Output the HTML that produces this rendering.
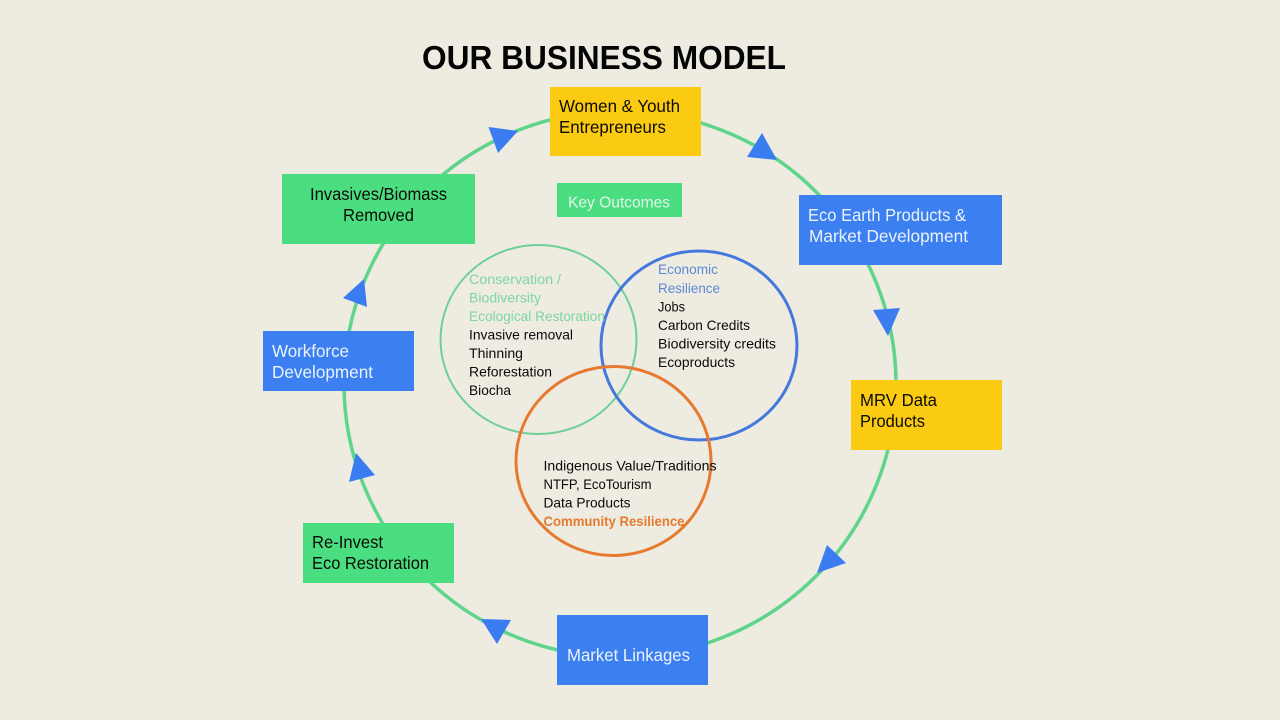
<!DOCTYPE html>
<html lang="en">
<head>
<meta charset="utf-8">
<title>Our Business Model</title>
<style>
html,body{margin:0;padding:0;width:1280px;height:720px;overflow:hidden;background:#eeebe1}
svg{display:block}
text{font-family:"Liberation Sans",sans-serif}
.b{font-size:17.5px}
.k{font-size:16px}
.v{font-size:14px}
</style>
</head>
<body>
<svg width="1280" height="720" viewBox="0 0 1280 720" xmlns="http://www.w3.org/2000/svg">
<rect width="1280" height="720" fill="#eeebe1"/>
<text x="422" y="69" font-size="33" font-weight="700" fill="#050505" textLength="364" lengthAdjust="spacingAndGlyphs">OUR BUSINESS MODEL</text>

<ellipse cx="620" cy="384" rx="276" ry="273" fill="none" stroke="#5fd48b" stroke-width="3.5"/>

<g fill="#3b7df0">
<polygon points="488.5,127 518,131 498,153"/>
<polygon points="762,133 777,160 747,157"/>
<polygon points="873,310 900,308 888,336"/>
<polygon points="827,545 846,563 817,573"/>
<polygon points="481,619 511,620 497,644"/>
<polygon points="356,453 375,475 349,482"/>
<polygon points="364,279 367,307 343,298"/>
</g>

<rect x="550" y="87" width="151" height="69" fill="#fbcb14"/>
<rect x="282" y="174" width="193" height="70" fill="#4ade80"/>
<rect x="557" y="183" width="125" height="34" fill="#4ade80"/>
<rect x="799" y="195" width="203" height="70" fill="#3b7ff1"/>
<rect x="851" y="380" width="151" height="70" fill="#fbcb14"/>
<rect x="263" y="331" width="151" height="60" fill="#3b7ff1"/>
<rect x="303" y="523" width="151" height="60" fill="#4ade80"/>
<rect x="557" y="615" width="151" height="70" fill="#3b7ff1"/>

<g fill="#0c0c06">
<text class="b" x="559" y="112" textLength="121" lengthAdjust="spacingAndGlyphs">Women &amp; Youth</text>
<text class="b" x="559" y="133" textLength="107" lengthAdjust="spacingAndGlyphs">Entrepreneurs</text>
<text class="b" x="310" y="200" textLength="137" lengthAdjust="spacingAndGlyphs">Invasives/Biomass</text>
<text class="b" x="343" y="221" textLength="71" lengthAdjust="spacingAndGlyphs">Removed</text>
<text class="b" x="860" y="406" textLength="77" lengthAdjust="spacingAndGlyphs">MRV Data</text>
<text class="b" x="860" y="427" textLength="65" lengthAdjust="spacingAndGlyphs">Products</text>
<text class="b" x="312" y="548" textLength="71" lengthAdjust="spacingAndGlyphs">Re-Invest</text>
<text class="b" x="312" y="569" textLength="117" lengthAdjust="spacingAndGlyphs">Eco Restoration</text>
</g>
<g fill="#eaf3fb">
<text class="k" x="568" y="207.5" fill="#e4f4e6" textLength="102" lengthAdjust="spacingAndGlyphs">Key Outcomes</text>
<text class="b" x="808" y="221" textLength="158" lengthAdjust="spacingAndGlyphs">Eco Earth Products &amp;</text>
<text class="b" x="809" y="242" textLength="159" lengthAdjust="spacingAndGlyphs">Market Development</text>
<text class="b" x="272" y="357" textLength="77" lengthAdjust="spacingAndGlyphs">Workforce</text>
<text class="b" x="272" y="378" textLength="101" lengthAdjust="spacingAndGlyphs">Development</text>
<text class="b" x="567" y="661" textLength="123" lengthAdjust="spacingAndGlyphs">Market Linkages</text>
</g>

<ellipse cx="538.5" cy="339.5" rx="98" ry="94.5" fill="none" stroke="#6fd096" stroke-width="2"/>
<ellipse cx="699" cy="345.5" rx="98" ry="94.5" fill="none" stroke="#4478dc" stroke-width="3"/>
<ellipse cx="613.5" cy="461" rx="97.5" ry="94.5" fill="none" stroke="#e67a30" stroke-width="3"/>

<g fill="#7cd6a0">
<text class="v" x="469" y="284" textLength="92" lengthAdjust="spacingAndGlyphs">Conservation /</text>
<text class="v" x="469" y="302.5" textLength="72" lengthAdjust="spacingAndGlyphs">Biodiversity</text>
<text class="v" x="469" y="321" textLength="136" lengthAdjust="spacingAndGlyphs">Ecological Restoration</text>
</g>
<g fill="#0a0a0a">
<text class="v" x="469" y="339.5" textLength="104" lengthAdjust="spacingAndGlyphs">Invasive removal</text>
<text class="v" x="469" y="358" textLength="54" lengthAdjust="spacingAndGlyphs">Thinning</text>
<text class="v" x="469" y="376.5" textLength="83" lengthAdjust="spacingAndGlyphs">Reforestation</text>
<text class="v" x="469" y="395" textLength="42" lengthAdjust="spacingAndGlyphs">Biocha</text>
</g>
<g fill="#5c8ad6">
<text class="v" x="658" y="274" textLength="60" lengthAdjust="spacingAndGlyphs">Economic</text>
<text class="v" x="658" y="293" textLength="62" lengthAdjust="spacingAndGlyphs">Resilience</text>
</g>
<g fill="#0a0a0a">
<text class="v" x="658" y="311.5" textLength="27" lengthAdjust="spacingAndGlyphs">Jobs</text>
<text class="v" x="658" y="330" textLength="92" lengthAdjust="spacingAndGlyphs">Carbon Credits</text>
<text class="v" x="658" y="348.5" textLength="118" lengthAdjust="spacingAndGlyphs">Biodiversity credits</text>
<text class="v" x="658" y="367" textLength="77" lengthAdjust="spacingAndGlyphs">Ecoproducts</text>
<text class="v" x="543.5" y="470.5" textLength="173" lengthAdjust="spacingAndGlyphs">Indigenous Value/Traditions</text>
<text class="v" x="543.5" y="489" textLength="108" lengthAdjust="spacingAndGlyphs">NTFP, EcoTourism</text>
<text class="v" x="543.5" y="507.5" textLength="87" lengthAdjust="spacingAndGlyphs">Data Products</text>
</g>
<text class="v" x="543.5" y="526" font-weight="700" fill="#e67a30" textLength="141" lengthAdjust="spacingAndGlyphs">Community Resilience</text>
</svg>
</body>
</html>
